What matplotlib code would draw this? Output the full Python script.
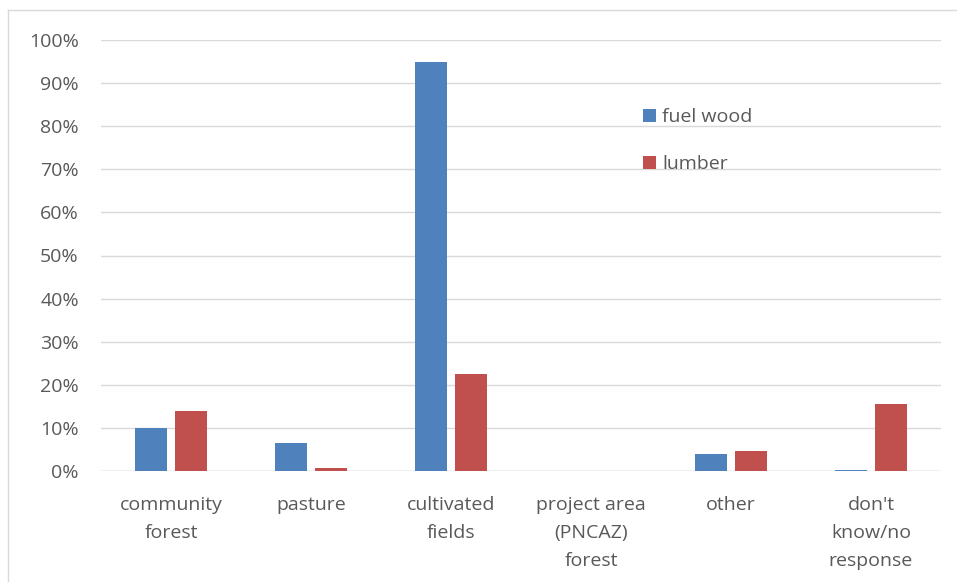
import matplotlib
matplotlib.use("Agg")
import matplotlib.pyplot as plt
import numpy as np
from matplotlib.lines import Line2D

categories = ["community\nforest", "pasture", "cultivated\nfields",
              "project area\n(PNCAZ)\nforest", "other", "don't\nknow/no\nresponse"]
fuel_wood = [0.10, 0.066, 0.95, 0.0, 0.04, 0.003]
lumber = [0.14, 0.008, 0.225, 0.0, 0.047, 0.155]
yticks = [0.0, 0.1, 0.2, 0.3, 0.4, 0.5, 0.6, 0.7, 0.8, 0.9, 1.0]
ytick_labels = ["0%", "10%", "20%", "30%", "40%", "50%", "60%", "70%", "80%", "90%", "100%"]

plt.rcParams['font.family'] = ['Open Sans', 'DejaVu Sans']
text_color = "#595959"
fs = 14

W, H = 957, 582
L, R, B, T = 101, 941, 471, 40
fig = plt.figure(figsize=(W/100, H/100), dpi=100)
ax = fig.add_axes([L/W, 1-B/H, (R-L)/W, (B-T)/H])

x = np.arange(len(categories))
w = 0.225
off = 0.142
ax.bar(x - off, fuel_wood, w, color="#4F81BD", label="fuel wood", zorder=3)
ax.bar(x + off, lumber, w, color="#C0504D", label="lumber", zorder=3)

ax.set_xlim(-0.5, len(categories) - 0.5)
ax.set_ylim(0, 1.0)
ax.set_yticks(yticks)
ax.set_yticklabels(ytick_labels)
ax.set_xticks(x)
ax.set_xticklabels(categories, linespacing=1.72)
for s in ax.spines.values():
    s.set_visible(False)
ax.grid(axis='y', color="#d9d9d9", linewidth=1, zorder=0)
ax.axhline(0, color="#d9d9d9", linewidth=1, zorder=1)
ax.tick_params(axis='both', length=0, labelsize=fs, colors=text_color)
ax.tick_params(axis='y', pad=16)
ax.tick_params(axis='x', pad=18)

# legend
lx, ly = 643, 108
leg = ax.legend(loc='upper left', bbox_to_anchor=((lx-L)/(R-L), (B-ly)/(B-T)),
                frameon=False, fontsize=fs, labelcolor=text_color,
                handlelength=0.65, handleheight=0.65, handletextpad=0.35,
                labelspacing=1.5, borderpad=0, borderaxespad=0)

# border lines
fig.add_artist(Line2D([8/W, 8/W], [0, 1-10/H], color="#d9d9d9", lw=1))
fig.add_artist(Line2D([8/W, 1], [1-10/H, 1-10/H], color="#d9d9d9", lw=1))

fig.savefig("out.png", dpi=100)
